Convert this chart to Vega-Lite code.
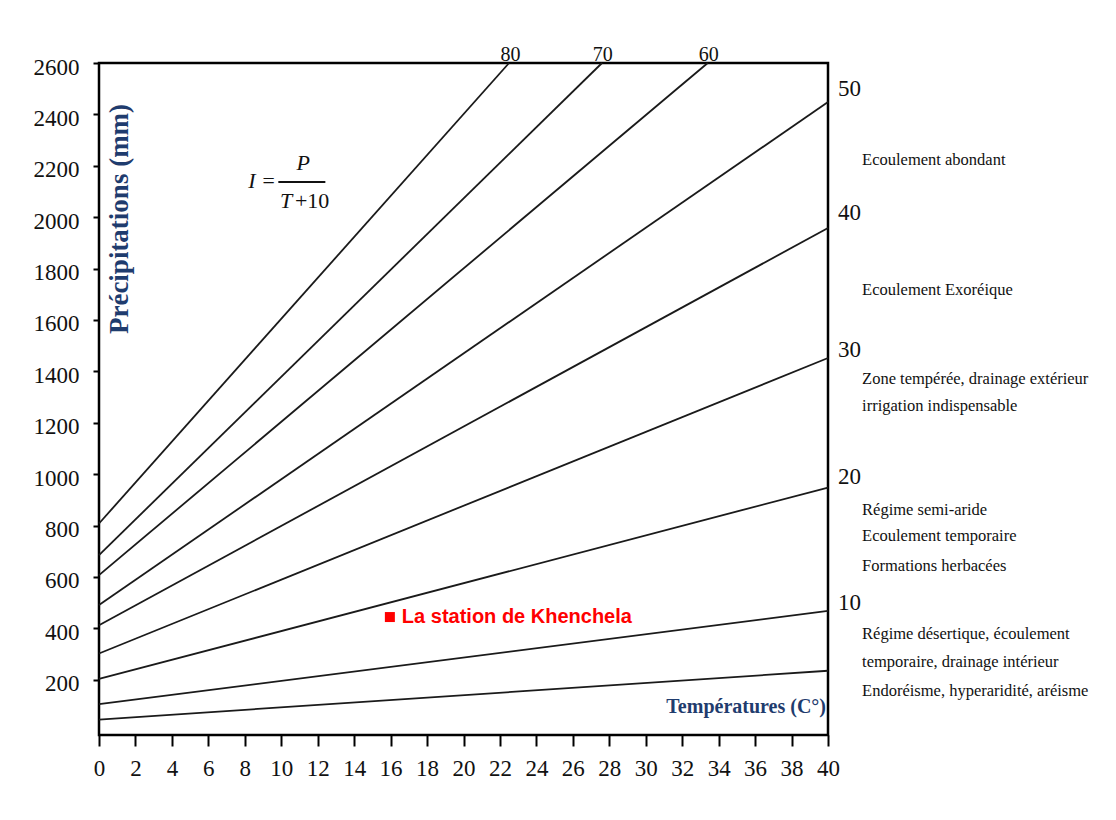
{
  "$schema": "https://vega.github.io/schema/vega-lite/v6.json",
  "width": 729,
  "height": 672,
  "autosize": {"type": "none"},
  "padding": {"left": 99, "top": 63, "right": 288, "bottom": 85},
  "background": "white",
  "config": {
    "font": "Liberation Serif",
    "view": {"stroke": "#000000", "strokeWidth": 2.5}
  },
  "datasets": {
    "lines": [
      {"I": 5, "T": 0, "P": 45}, {"I": 5, "T": 40, "P": 235},
      {"I": 10, "T": 0, "P": 105}, {"I": 10, "T": 40, "P": 468},
      {"I": 20, "T": 0, "P": 203}, {"I": 20, "T": 40, "P": 948},
      {"I": 30, "T": 0, "P": 302}, {"I": 30, "T": 40, "P": 1452},
      {"I": 40, "T": 0, "P": 412}, {"I": 40, "T": 40, "P": 1958},
      {"I": 50, "T": 0, "P": 491}, {"I": 50, "T": 40, "P": 2448},
      {"I": 60, "T": 0, "P": 607}, {"I": 60, "T": 33.4, "P": 2600},
      {"I": 70, "T": 0, "P": 685}, {"I": 70, "T": 27.6, "P": 2600},
      {"I": 80, "T": 0, "P": 808}, {"I": 80, "T": 22.5, "P": 2600}
    ],
    "indexLabels": [
      {"s": "50", "T": 40.55, "P": 2500},
      {"s": "40", "T": 40.55, "P": 2016},
      {"s": "30", "T": 40.55, "P": 1483},
      {"s": "20", "T": 40.55, "P": 989},
      {"s": "10", "T": 40.55, "P": 499}
    ],
    "topLabels": [
      {"s": "80", "T": 22.58, "P": 2607},
      {"s": "70", "T": 27.64, "P": 2607},
      {"s": "60", "T": 33.46, "P": 2607}
    ],
    "notes": [
      {"s": "Ecoulement abondant", "T": 41.87, "P": 2222},
      {"s": "Ecoulement Exoréique", "T": 41.87, "P": 1717},
      {"s": "Zone tempérée, drainage extérieur", "T": 41.87, "P": 1370},
      {"s": "irrigation indispensable", "T": 41.87, "P": 1265},
      {"s": "Régime semi-aride", "T": 41.87, "P": 860},
      {"s": "Ecoulement temporaire", "T": 41.87, "P": 759},
      {"s": "Formations herbacées", "T": 41.87, "P": 643},
      {"s": "Régime désertique, écoulement", "T": 41.87, "P": 378},
      {"s": "temporaire, drainage intérieur", "T": 41.87, "P": 269},
      {"s": "Endoréisme, hyperaridité, aréisme", "T": 41.87, "P": 156}
    ],
    "formulaItalic": [
      {"s": "I =", "T": 8.95, "P": 2140},
      {"s": "P", "T": 11.2, "P": 2211},
      {"s": "T", "T": 10.27, "P": 2063}
    ],
    "formulaUpright": [
      {"s": "+10", "T": 10.75, "P": 2063}
    ],
    "fractionBar": [
      {"T": 9.84, "T2": 12.42, "P": 2137}
    ],
    "yTitle": [
      {"s": "Précipitations (mm)", "T": 1.15, "P": 1993}
    ],
    "xTitle": [
      {"s": "Températures (C°)", "T": 39.89, "P": 94}
    ],
    "station": [
      {"s": "La station de Khenchela", "T": 15.96, "P": 444}
    ]
  },
  "encoding": {
    "x": {
      "field": "T",
      "type": "quantitative",
      "scale": {"domain": [0, 40], "nice": false, "zero": false},
      "axis": {
        "title": null,
        "values": [0, 2, 4, 6, 8, 10, 12, 14, 16, 18, 20, 22, 24, 26, 28, 30, 32, 34, 36, 38, 40],
        "format": "d",
        "domain": false,
        "grid": false,
        "ticks": true,
        "tickColor": "#000000",
        "tickSize": 11,
        "tickWidth": 2,
        "labelFont": "Liberation Serif",
        "labelFontSize": 23,
        "labelColor": "#111111",
        "labelPadding": 11,
        "labelFlush": false,
        "labelOverlap": false
      }
    },
    "y": {
      "field": "P",
      "type": "quantitative",
      "scale": {"domain": [-15, 2600], "nice": false, "zero": false},
      "axis": {
        "title": null,
        "values": [200, 400, 600, 800, 1000, 1200, 1400, 1600, 1800, 2000, 2200, 2400, 2600],
        "format": "d",
        "domain": false,
        "grid": false,
        "tickColor": "#000000",
        "tickSize": 6,
        "tickWidth": 2,
        "labelFont": "Liberation Serif",
        "labelFontSize": 23,
        "labelColor": "#111111",
        "labelPadding": 14,
        "labelOffset": 4,
        "labelOverlap": false
      }
    }
  },
  "layer": [
    {
      "data": {"name": "lines"},
      "mark": {"type": "line", "color": "#1a1a1a", "strokeWidth": 1.8},
      "encoding": {"detail": {"field": "I", "type": "nominal"}}
    },
    {
      "data": {"name": "fractionBar"},
      "mark": {"type": "rule", "color": "#111111", "strokeWidth": 2},
      "encoding": {"x2": {"field": "T2"}}
    },
    {
      "data": {"name": "formulaItalic"},
      "mark": {"type": "text", "font": "Liberation Serif", "fontStyle": "italic", "fontSize": 22, "color": "#111111", "align": "center", "baseline": "middle"},
      "encoding": {"text": {"field": "s"}}
    },
    {
      "data": {"name": "formulaUpright"},
      "mark": {"type": "text", "font": "Liberation Serif", "fontSize": 22, "color": "#111111", "align": "left", "baseline": "middle"},
      "encoding": {"text": {"field": "s"}}
    },
    {
      "data": {"name": "yTitle"},
      "mark": {"type": "text", "font": "Liberation Serif", "fontWeight": "bold", "fontSize": 27, "color": "#1f3c6e", "angle": 270, "align": "center", "baseline": "middle"},
      "encoding": {"text": {"field": "s"}}
    },
    {
      "data": {"name": "xTitle"},
      "mark": {"type": "text", "font": "Liberation Serif", "fontWeight": "bold", "fontSize": 20, "color": "#1f3c6e", "align": "right", "baseline": "middle"},
      "encoding": {"text": {"field": "s"}}
    },
    {
      "data": {"name": "indexLabels"},
      "mark": {"type": "text", "font": "Liberation Serif", "fontSize": 23, "color": "#111111", "align": "left", "baseline": "middle"},
      "encoding": {"text": {"field": "s"}}
    },
    {
      "data": {"name": "topLabels"},
      "mark": {"type": "text", "font": "Liberation Serif", "fontSize": 20, "color": "#111111", "align": "center", "baseline": "alphabetic"},
      "encoding": {"text": {"field": "s"}}
    },
    {
      "data": {"name": "notes"},
      "mark": {"type": "text", "font": "Liberation Serif", "fontSize": 16.5, "color": "#111111", "align": "left", "baseline": "middle"},
      "encoding": {"text": {"field": "s"}}
    },
    {
      "data": {"name": "station"},
      "mark": {"type": "point", "shape": "square", "filled": true, "size": 100, "color": "#ff0000", "opacity": 1}
    },
    {
      "data": {"name": "station"},
      "mark": {"type": "text", "font": "Liberation Sans", "fontWeight": "bold", "fontSize": 20, "color": "#ff0000", "align": "left", "baseline": "middle", "dx": 12},
      "encoding": {"text": {"field": "s"}}
    }
  ]
}
